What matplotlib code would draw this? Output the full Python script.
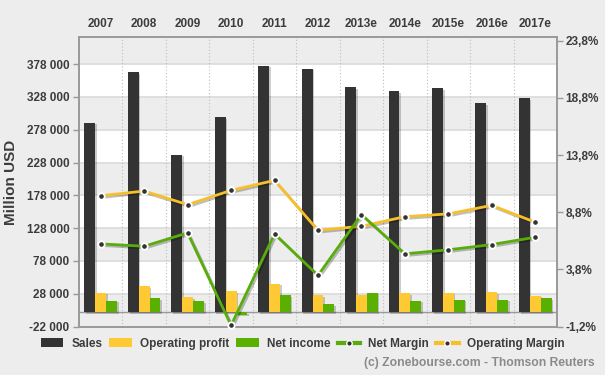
import numpy as np
import matplotlib
matplotlib.use('Agg')
import matplotlib.pyplot as plt
import matplotlib.patches as mpatches
import matplotlib.patheffects as pe
from matplotlib.lines import Line2D
from matplotlib.ticker import FuncFormatter

plt.rcParams['font.family'] = ['Liberation Sans', 'DejaVu Sans']

years = ['2007', '2008', '2009', '2010', '2011', '2012',
         '2013e', '2014e', '2015e', '2016e', '2017e']
sales = [289000, 366000, 240000, 297000, 376000, 371000,
         343000, 337000, 341000, 318500, 326000]
op_profit = [29600, 39200, 22500, 31600, 43400, 26000,
             26000, 28600, 29600, 30000, 25000]
net_income = [17400, 20900, 16300, -3700, 25500, 11700,
              29600, 17400, 18900, 18900, 21400]
net_margin = [6.03, 5.82, 6.99, -1.1, 6.9, 3.27, 8.59, 5.16, 5.51, 5.97, 6.61]
op_margin = [10.24, 10.65, 9.46, 10.71, 11.58, 7.22, 7.57, 8.41, 8.65, 9.40, 7.92]

left_ticks = [-22000, 28000, 78000, 128000, 178000, 228000, 278000, 328000, 378000]
right_ticks = [-1.2, 3.8, 8.8, 13.8, 18.8, 23.8]

BG = '#EDEDED'
DARK = '#333333'
YELLOW = '#FFC933'
GREEN = '#5AB000'
TXT = '#3C3C3C'

fig = plt.figure(figsize=(6.05, 3.75), dpi=100)
fig.patch.set_facecolor(BG)
ax = fig.add_axes([0.1306, 0.1293, 0.790, 0.7712])
ax.set_facecolor(BG)

x = np.arange(len(years))
w = 0.25
ymin, ymax = -22000, 419000
ax.set_xlim(-0.5, len(years) - 0.5)
ax.set_ylim(ymin, ymax)

# alternating bands
edges = left_ticks + [ymax]
for i in range(len(edges) - 1):
    if i % 2 == 1:
        ax.axhspan(edges[i], edges[i + 1], color='white', zorder=0, lw=0)
for t in left_ticks[1:]:
    ax.axhline(t, color='#DADADA', lw=1.2, zorder=0.5)
for k in range(1, len(years)):
    ax.axvline(k - 0.5, color='#BDBDBD', lw=0.8, ls=(0, (1, 2)), zorder=0.6)
ax.axhline(0, color='#9A9A9A', lw=1.0, zorder=1)

shadow = [pe.SimplePatchShadow(offset=(1.2, -1.2), shadow_rgbFace='#000000', alpha=0.2), pe.Normal()]
b1 = ax.bar(x - w, sales, w, color=DARK, zorder=2)
b2 = ax.bar(x, op_profit, w, color=YELLOW, zorder=2)
b3 = ax.bar(x + w, net_income, w, color=GREEN, zorder=2)
for bars in (b1, b2, b3):
    for b in bars:
        b.set_path_effects(shadow)

ax.set_yticks(left_ticks)
ax.yaxis.set_major_formatter(FuncFormatter(lambda v, p: f'{int(v):,}'.replace(',', ' ')))
ax.tick_params(axis='y', length=4, width=1, color='#999999', labelsize=8.5,
               labelcolor=TXT, pad=3)
for lab in ax.get_yticklabels():
    lab.set_fontweight('bold')
ax.xaxis.tick_top()
ax.set_xticks(x)
ax.set_xticklabels(years, fontsize=8.5, fontweight='bold', color=TXT)
ax.tick_params(axis='x', length=0, pad=5)
ax.set_ylabel('Million USD', fontsize=11, fontweight='bold', color=TXT, labelpad=6)
for s in ax.spines.values():
    s.set_color('#999999')
    s.set_linewidth(1.2)

ax2 = ax.twinx()
ax2.set_ylim(-1.2, 24.1)
ax2.set_yticks(right_ticks)
ax2.yaxis.set_major_formatter(FuncFormatter(lambda v, p: f'{v:.1f}%'.replace('.', ',')))
ax2.tick_params(axis='y', length=4, width=1, color='#999999', labelsize=8.5,
                labelcolor=TXT, pad=2)
for lab in ax2.get_yticklabels():
    lab.set_fontweight('bold')
for s in ax2.spines.values():
    s.set_color('#999999')
    s.set_linewidth(1.2)

lshadow = [pe.SimpleLineShadow(offset=(1.2, -1.2), alpha=0.25), pe.Normal()]
for vals, col in ((op_margin, '#F7C02A'), (net_margin, '#58AD0C')):
    ax2.plot(x, vals, color=col, lw=2, zorder=3, path_effects=lshadow, clip_on=False)
    ax2.plot(x, vals, ls='none', marker='o', ms=5, mfc='white', mec='white',
             zorder=4, clip_on=False)
    ax2.plot(x, vals, ls='none', marker='o', ms=2.3, mfc='#333333', mec='#333333',
             zorder=5, clip_on=False)

handles = [
    mpatches.Patch(facecolor=DARK, label='Sales'),
    mpatches.Patch(facecolor=YELLOW, label='Operating profit'),
    mpatches.Patch(facecolor=GREEN, label='Net income'),
    Line2D([], [], color='#58AD0C', lw=3, marker='o', ms=4, mfc='#333333',
           mec='white', mew=1, label='Net Margin'),
    Line2D([], [], color='#F7C02A', lw=3, marker='o', ms=4, mfc='#333333',
           mec='white', mew=1, label='Operating Margin'),
]
leg = fig.legend(handles=handles, loc='center', bbox_to_anchor=(0.5, 0.083), ncol=5,
                 frameon=False, fontsize=8.5, handlelength=1.9, handleheight=0.8,
                 handletextpad=0.7, columnspacing=0.6, borderpad=0)
for t in leg.get_texts():
    t.set_fontweight('bold')
    t.set_color(TXT)

fig.text(0.983, 0.033, '(c) Zonebourse.com - Thomson Reuters', ha='right', va='center',
         fontsize=8.7, fontweight='bold', color='#8A8A8A')

fig.savefig('out.png', dpi=100, facecolor=BG)
